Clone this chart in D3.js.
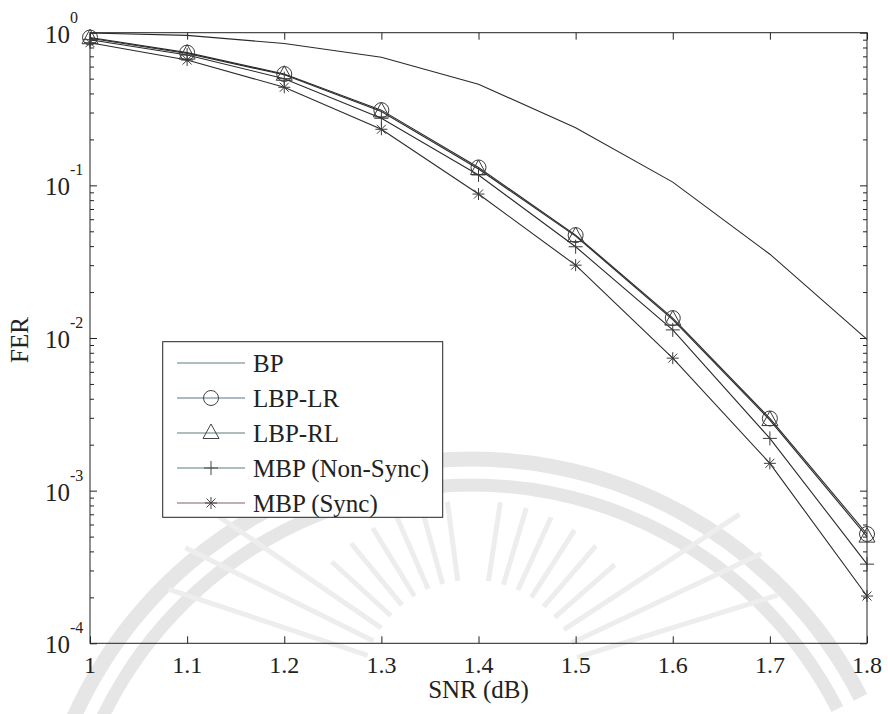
<!DOCTYPE html>
<html>
<head>
<meta charset="utf-8">
<script src="https://cdn.jsdelivr.net/npm/d3@7"></script>
<style>
  html, body { margin: 0; padding: 0; background: #fff; }
  svg text { font-family: "Liberation Serif", "Times New Roman", serif; }
</style>
</head>
<body>
<svg id="chart" width="888" height="714"></svg>
<script>
// SNR points (dB) and frame error rate of each decoder
const snr = [1.0, 1.1, 1.2, 1.3, 1.4, 1.5, 1.6, 1.7, 1.8];
const ferBP = [0.995, 0.96, 0.85, 0.69, 0.46, 0.238, 0.105, 0.0354, 0.0098];
const ferLBP_LR = [0.93, 0.74, 0.536, 0.311, 0.131, 0.0472, 0.0135, 0.00297, 5.2e-4];
const ferLBP_RL = [0.92, 0.73, 0.53, 0.305, 0.128, 0.0465, 0.0132, 0.0029, 5.0e-4];
const ferMBP_NonSync = [0.90, 0.714, 0.50, 0.275, 0.117, 0.0396, 0.0113, 0.0022, 3.3e-4];
const ferMBP_Sync = [0.86, 0.662, 0.439, 0.233, 0.0877, 0.030, 0.00738, 0.00151, 2.04e-4];

const seriesNames = ["BP", "LBP-LR", "LBP-RL", "MBP (Non-Sync)", "MBP (Sync)"];
const seriesMarkers = ["none", "circle", "triangle", "plus", "star"];
const xTickLabels = ["1", "1.1", "1.2", "1.3", "1.4", "1.5", "1.6", "1.7", "1.8"];
const yDecades = [-4, -3, -2, -1, 0];

const series = [ferBP, ferLBP_LR, ferLBP_RL, ferMBP_NonSync, ferMBP_Sync].map((v, i) => ({
  name: seriesNames[i], marker: seriesMarkers[i], values: v
}));

const svg = d3.select("#chart");
const serif = '"Liberation Serif", "Times New Roman", serif';
const ink = "#222";
const plot = { left: 90, right: 867, top: 32.7, bottom: 643.3 };

const x = d3.scaleLinear().domain([1, 1.8]).range([plot.left, plot.right]);
const y = d3.scaleLog().domain([1e-4, 1]).range([plot.bottom, plot.top]);

// faint seal watermark in the background
const wm = svg.append("g").attr("fill", "none").attr("stroke", "#e6e6e6");
const cx = 472, cy = 895;
[[436, 15], [410, 13]].forEach(([r, w]) => {
  wm.append("path")
    .attr("d", d3.arc()({ innerRadius: r, outerRadius: r, startAngle: -1.3, endAngle: 1.1 }))
    .attr("transform", `translate(${cx},${cy})`)
    .attr("stroke-width", w);
});
const rx = 472, ry = 690;
d3.range(-1.25, 1.3, 0.14).forEach(a => {
  if (Math.abs(a) < 0.1) return;
  const r0 = 110, r1 = Math.abs(a) > 0.9 ? 320 : 190;
  wm.append("line")
    .attr("x1", rx + r0 * Math.sin(a)).attr("y1", ry - r0 * Math.cos(a))
    .attr("x2", rx + r1 * Math.sin(a)).attr("y2", ry - r1 * Math.cos(a))
    .attr("stroke", "#ededed").attr("stroke-width", 5);
});

// axes frame with inward ticks on all four sides
const minorVals = [];
yDecades.slice(0, -1).forEach(d => {
  for (let m = 2; m <= 9; m++) minorVals.push(m * Math.pow(10, d));
});
const majorVals = yDecades.map(d => Math.pow(10, d));

function styleAxis(g) {
  g.select(".domain").remove();
  g.selectAll("line").attr("stroke", ink).attr("stroke-width", 1);
  g.selectAll("text").remove();
}

svg.append("g").attr("transform", `translate(0,${plot.bottom})`)
  .call(d3.axisBottom(x).tickValues(snr).tickSize(-7)).call(styleAxis);
svg.append("g").attr("transform", `translate(0,${plot.top})`)
  .call(d3.axisTop(x).tickValues(snr).tickSize(-7)).call(styleAxis);
svg.append("g").attr("transform", `translate(${plot.left},0)`)
  .call(d3.axisLeft(y).tickValues(majorVals).tickSize(-7)).call(styleAxis);
svg.append("g").attr("transform", `translate(${plot.left},0)`)
  .call(d3.axisLeft(y).tickValues(minorVals).tickSize(-4)).call(styleAxis);
svg.append("g").attr("transform", `translate(${plot.right},0)`)
  .call(d3.axisRight(y).tickValues(majorVals).tickSize(-7)).call(styleAxis);
svg.append("g").attr("transform", `translate(${plot.right},0)`)
  .call(d3.axisRight(y).tickValues(minorVals).tickSize(-4)).call(styleAxis);

svg.append("rect")
  .attr("x", plot.left).attr("y", plot.top)
  .attr("width", plot.right - plot.left).attr("height", plot.bottom - plot.top)
  .attr("fill", "none").attr("stroke", ink).attr("stroke-width", 1);

// x tick labels
svg.append("g").selectAll("text").data(snr).join("text")
  .attr("x", d => x(d)).attr("y", plot.bottom + 30)
  .attr("text-anchor", "middle").attr("font-family", serif)
  .attr("font-size", 24).attr("fill", ink)
  .text((d, i) => xTickLabels[i]);

// y tick labels as 10 with superscript exponent
const yl = svg.append("g").selectAll("g").data(yDecades).join("g")
  .attr("transform", d => `translate(0,${y(Math.pow(10, d))})`);
yl.append("text").attr("x", 70).attr("y", 10)
  .attr("text-anchor", "end").attr("font-family", serif)
  .attr("font-size", 25).attr("fill", ink).text("10");
yl.append("text").attr("x", 70).attr("y", -10)
  .attr("text-anchor", "start").attr("font-family", serif)
  .attr("font-size", 16).attr("fill", ink)
  .text(d => d === 0 ? "0" : String(d));

// axis titles
svg.append("text").attr("x", (plot.left + plot.right) / 2).attr("y", 698)
  .attr("text-anchor", "middle").attr("font-family", serif)
  .attr("font-size", 25).attr("fill", ink).text("SNR (dB)");
svg.append("text").attr("transform", "translate(28,340) rotate(-90)")
  .attr("text-anchor", "middle").attr("font-family", serif)
  .attr("font-size", 25).attr("fill", ink).text("FER");

// marker drawing
function drawMarker(g, type, color) {
  if (type === "circle") {
    g.append("circle").attr("r", 7.5).attr("fill", "none").attr("stroke", color);
  } else if (type === "triangle") {
    g.append("path").attr("d", "M0,-9L8,5.5L-8,5.5Z").attr("fill", "none").attr("stroke", color);
  } else if (type === "plus") {
    g.append("path").attr("d", "M-7,0H7M0,-7V7").attr("fill", "none").attr("stroke", color);
  } else if (type === "star") {
    g.append("path").attr("d", "M-6,0H6M0,-6V6M-4.5,-4.5L4.5,4.5M-4.5,4.5L4.5,-4.5")
      .attr("fill", "none").attr("stroke", color);
  }
}

const line = d3.line().x((d, i) => x(snr[i])).y(d => y(d));

const lines = svg.append("g");
series.forEach(s => {
  lines.append("path").datum(s.values)
    .attr("d", line).attr("fill", "none").attr("stroke", "#2a2a2a").attr("stroke-width", 1.1);
  s.values.forEach((v, i) => {
    const g = lines.append("g").attr("transform", `translate(${x(snr[i])},${y(v)})`);
    drawMarker(g, s.marker, "#3a3a3a");
  });
});

// legend
const legendColors = ["#5f7d80", "#5d7684", "#5c7a7c", "#5f7d80", "#8a5d66"];
const lg = svg.append("g");
lg.append("rect").attr("x", 162.7).attr("y", 341.7).attr("width", 280).attr("height", 175.6)
  .attr("fill", "#fff").attr("stroke", ink).attr("stroke-width", 1);
const ly = d3.scalePoint().domain(seriesNames).range([363, 503]);
series.forEach((s, i) => {
  const yy = ly(s.name);
  lg.append("line").attr("x1", 177).attr("x2", 245).attr("y1", yy).attr("y2", yy)
    .attr("stroke", legendColors[i]).attr("stroke-width", 1.1);
  const g = lg.append("g").attr("transform", `translate(211,${yy})`);
  drawMarker(g, s.marker, "#444");
  lg.append("text").attr("x", 253).attr("y", yy + 8.5)
    .attr("font-family", serif)
    .attr("font-size", 25).attr("fill", ink).text(s.name);
});
</script>
</body>
</html>
